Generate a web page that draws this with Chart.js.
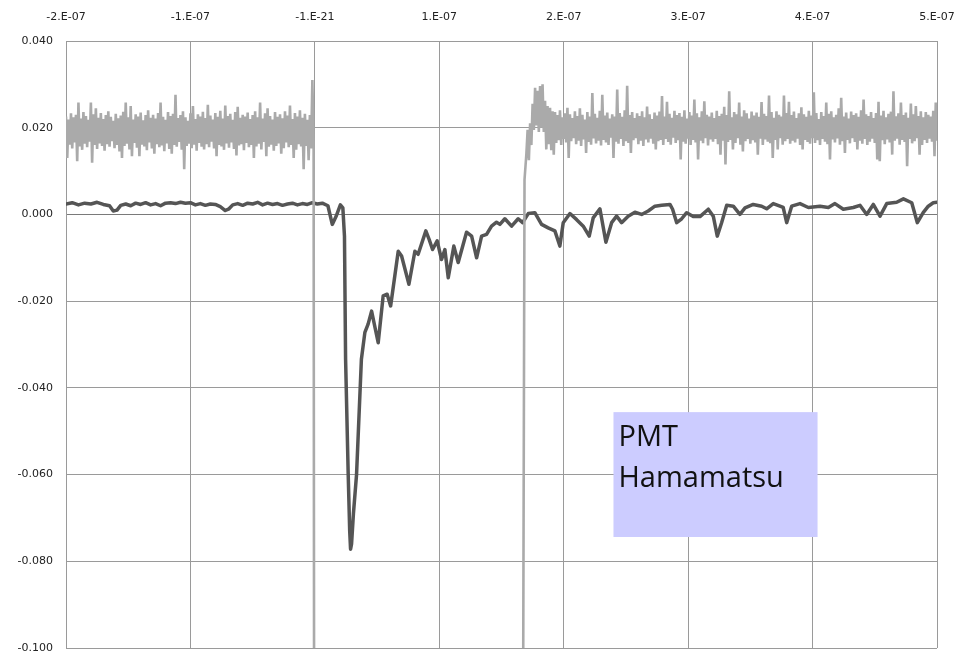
<!DOCTYPE html>
<html>
<head>
<meta charset="utf-8">
<title>PMT Hamamatsu</title>
<script src="https://cdn.jsdelivr.net/npm/chart.js@4.4.1/dist/chart.umd.min.js"></script>
<style>
  html, body { margin: 0; padding: 0; background: #ffffff; }
  #wrap { position: relative; width: 961px; height: 653px; }
</style>
</head>
<body>
<div id="wrap"><canvas id="c" width="961" height="653"></canvas></div>
<script>
// Axis tick labels (time axis is in ns internally, labelled in seconds)
const xTickLabels = ['-2.E-07', '-1.E-07', '-1.E-21', '1.E-07', '2.E-07', '3.E-07', '4.E-07', '5.E-07'];
const yTickLabels = ['-0.100', '-0.080', '-0.060', '-0.040', '-0.020', '0.000', '0.020', '0.040'];

// PMT anode signal (dark trace): time in ns, amplitude in V
const darkTimeNs = [
  -200, -195, -190, -185, -180, -175, -170, -165, -162, -159, -156, -152, -148, -144, -140, -136,
  -132, -128, -124, -120, -116, -112, -108, -104, -100, -96, -92, -88, -84, -80, -76, -72, -69, -66,
  -62, -58, -54, -50, -46, -42, -38, -34, -30, -26, -22, -18, -14, -10, -6, -2, 2, 6, 10.5, 14, 17,
  20.5, 22.5, 23.8, 24.7, 26.8, 28, 28.7, 29.5, 31, 33.5, 37.4, 40.2, 42.8, 45.6, 50.9, 54.9, 58.1,
  60.9, 67, 69.7, 75.6, 80.4, 83, 89.2, 91.9, 94.6, 98.3, 101.8, 104.5, 107.2, 111.7, 115.2, 121.9,
  126, 130, 134, 138, 142, 146, 148.7, 152.7, 158.1, 163.4, 167.0, 171.5, 176.8, 182.2, 187.5, 192.9,
  196.9, 199.6, 205.0, 210.4, 215.7, 220.5, 223.7, 229.1, 233.9, 238.5, 242.5, 246.5, 251.8, 257.2,
  262.6, 267.9, 273.3, 278.7, 285.4, 287.5, 290.8, 294.8, 298.8, 304.1, 309.5, 316.2, 320.2, 323.4,
  326.9, 331.0, 336.3, 341.6, 345.7, 352.3, 359.1, 363.1, 368.4, 373.8, 376.4, 379.2, 383.2, 389.9,
  396.6, 406.0, 412.7, 418.0, 424.7, 432.7, 438.1, 443.5, 448.8, 454.2, 459.6, 467.6, 473.0, 479.7,
  484.2, 488.9, 493.0, 497.0, 500
];
const darkVolt = [
  0.0024, 0.0027, 0.0022, 0.0026, 0.0024, 0.0028, 0.0023, 0.0020, 0.0008, 0.0010, 0.0021, 0.0024, 0.0020, 0.0026, 0.0023, 0.0027,
  0.0022, 0.0025, 0.0020, 0.0026, 0.0027, 0.0025, 0.0028, 0.0026, 0.0027, 0.0022, 0.0025, 0.0021, 0.0024, 0.0023, 0.0018, 0.0009, 0.0013, 0.0022,
  0.0025, 0.0021, 0.0026, 0.0024, 0.0028, 0.0022, 0.0026, 0.0023, 0.0025, 0.0021, 0.0024, 0.0026, 0.0022, 0.0025, 0.0023, 0.0027, 0.0024, 0.0026, 0.0020, -0.0023, -0.0005,
  0.0022, 0.0015, -0.0050, -0.0334, -0.0600, -0.0730, -0.0772, -0.0760, -0.0690, -0.0600, -0.0334, -0.0272, -0.0253, -0.0223, -0.0296, -0.0188, -0.0184,
  -0.0211, -0.0085, -0.0096, -0.0161, -0.0085, -0.0092, -0.0038, -0.0058, -0.0081, -0.0061, -0.0104, -0.0081, -0.0146, -0.0073, -0.0111, -0.0041,
  -0.0050, -0.0100, -0.0050, -0.0046, -0.0027, -0.0018, -0.0023, -0.0010, -0.0027, -0.0010, -0.0019, 0.0002, 0.0004, -0.0023, -0.0031, -0.0038,
  -0.0073, -0.0019, 0.0002, -0.0012, -0.0027, -0.0050, -0.0008, 0.0013, -0.0064, -0.0019, -0.0004, -0.0019, -0.0004, 0.0005,
  0.0000, 0.0008, 0.0019, 0.0021, 0.0023, 0.0012, -0.0019, -0.0010, 0.0004, -0.0005, -0.0005, 0.0012, -0.0004, -0.0050,
  -0.0019, 0.0021, 0.0019, 0.0000, 0.0015, 0.0023, 0.0019, 0.0013, 0.0025, 0.0019, 0.0016, -0.0019, 0.0019, 0.0025,
  0.0016, 0.0019, 0.0016, 0.0025, 0.0012, 0.0016, 0.0021, 0.0000, 0.0023, -0.0004, 0.0025, 0.0028, 0.0036, 0.0027,
  -0.0019, 0.0004, 0.0019, 0.0027, 0.0028
];

// Reference trace (light): recorded at a fixed 1 ns sample interval
const SAMPLE_NS = 1;
const lightPreStartNs = -200;
const lightPreVolt = [
  0.0226, 0.0130, 0.0219, 0.0161, 0.0233, 0.0152, 0.0224, 0.0166, 0.0230, 0.0123,
  0.0258, 0.0157, 0.0221, 0.0149, 0.0236, 0.0163, 0.0227, 0.0155, 0.0218, 0.0168,
  0.0258, 0.0119, 0.0231, 0.0160, 0.0245, 0.0151, 0.0223, 0.0164, 0.0234, 0.0158,
  0.0220, 0.0147, 0.0229, 0.0162, 0.0238, 0.0156, 0.0225, 0.0169, 0.0216, 0.0153,
  0.0232, 0.0160, 0.0222, 0.0145, 0.0228, 0.0130, 0.0237, 0.0158, 0.0258, 0.0163,
  0.0224, 0.0150, 0.0250, 0.0134, 0.0219, 0.0165, 0.0231, 0.0154, 0.0226, 0.0134,
  0.0235, 0.0161, 0.0217, 0.0157, 0.0229, 0.0148, 0.0240, 0.0166, 0.0223, 0.0152,
  0.0230, 0.0140, 0.0221, 0.0162, 0.0234, 0.0155, 0.0258, 0.0159, 0.0225, 0.0146,
  0.0218, 0.0164, 0.0236, 0.0151, 0.0227, 0.0140, 0.0232, 0.0160, 0.0276, 0.0156,
  0.0222, 0.0167, 0.0229, 0.0149, 0.0238, 0.0104, 0.0224, 0.0158, 0.0216, 0.0163,
  0.0233, 0.0153, 0.0250, 0.0161, 0.0220, 0.0147, 0.0231, 0.0165, 0.0226, 0.0156,
  0.0237, 0.0150, 0.0222, 0.0162, 0.0253, 0.0155, 0.0228, 0.0168, 0.0219, 0.0152,
  0.0234, 0.0134, 0.0225, 0.0160, 0.0239, 0.0157, 0.0221, 0.0149, 0.0251, 0.0164,
  0.0227, 0.0154, 0.0232, 0.0166, 0.0218, 0.0151, 0.0236, 0.0136, 0.0248, 0.0159,
  0.0223, 0.0162, 0.0230, 0.0148, 0.0226, 0.0165, 0.0235, 0.0155, 0.0220, 0.0160,
  0.0229, 0.0130, 0.0238, 0.0157, 0.0224, 0.0163, 0.0258, 0.0150, 0.0221, 0.0167,
  0.0233, 0.0134, 0.0245, 0.0156, 0.0227, 0.0161, 0.0219, 0.0147, 0.0236, 0.0158,
  0.0225, 0.0164, 0.0231, 0.0140, 0.0222, 0.0153, 0.0238, 0.0166, 0.0228, 0.0155,
  0.0251, 0.0160, 0.0220, 0.0130, 0.0234, 0.0149, 0.0226, 0.0162, 0.0240, 0.0157,
  0.0223, 0.0104, 0.0232, 0.0158, 0.0218, 0.0125, 0.0229, 0.0152, 0.0310, 0.0165
];
// Off-scale stretch while the trace is saturated below the plotted range
const lightEdgeTimeNs = [-0.5, 167.0, 168.5, 170.0, 171.0];
const lightEdgeVolt = [-0.15, -0.15, 0.0080, 0.0140, 0.0195];
const lightPostStartNs = 172;
const lightPostVolt = [
  0.0125, 0.0210, 0.0160, 0.0255, 0.0195, 0.0292, 0.0205, 0.0285, 0.0190, 0.0296,
  0.0200, 0.0300, 0.0190, 0.0262, 0.0150, 0.0250, 0.0162, 0.0246, 0.0148, 0.0238,
  0.0138, 0.0236, 0.0165, 0.0229, 0.0171, 0.0240, 0.0160, 0.0224, 0.0174, 0.0233,
  0.0166, 0.0246, 0.0130, 0.0231, 0.0169, 0.0222, 0.0176, 0.0238, 0.0162, 0.0227,
  0.0170, 0.0245, 0.0158, 0.0230, 0.0173, 0.0219, 0.0142, 0.0236, 0.0167, 0.0226,
  0.0161, 0.0280, 0.0175, 0.0232, 0.0164, 0.0223, 0.0170, 0.0239, 0.0159, 0.0276,
  0.0172, 0.0228, 0.0166, 0.0235, 0.0160, 0.0221, 0.0177, 0.0231, 0.0130, 0.0226,
  0.0168, 0.0288, 0.0163, 0.0234, 0.0174, 0.0225, 0.0158, 0.0240, 0.0169, 0.0297,
  0.0165, 0.0229, 0.0142, 0.0236, 0.0171, 0.0222, 0.0176, 0.0233, 0.0162, 0.0227,
  0.0170, 0.0238, 0.0158, 0.0224, 0.0173, 0.0249, 0.0166, 0.0231, 0.0175, 0.0220,
  0.0163, 0.0235, 0.0150, 0.0228, 0.0169, 0.0237, 0.0172, 0.0273, 0.0160, 0.0226,
  0.0174, 0.0260, 0.0167, 0.0232, 0.0161, 0.0223, 0.0177, 0.0239, 0.0165, 0.0229,
  0.0171, 0.0234, 0.0127, 0.0225, 0.0168, 0.0240, 0.0163, 0.0221, 0.0175, 0.0236,
  0.0160, 0.0228, 0.0172, 0.0265, 0.0166, 0.0233, 0.0127, 0.0224, 0.0170, 0.0238,
  0.0164, 0.0261, 0.0176, 0.0230, 0.0159, 0.0226, 0.0173, 0.0235, 0.0168, 0.0222,
  0.0174, 0.0239, 0.0162, 0.0227, 0.0138, 0.0232, 0.0170, 0.0248, 0.0115, 0.0229,
  0.0167, 0.0284, 0.0172, 0.0224, 0.0150, 0.0236, 0.0165, 0.0231, 0.0176, 0.0258,
  0.0161, 0.0226, 0.0145, 0.0240, 0.0169, 0.0233, 0.0174, 0.0221, 0.0163, 0.0237,
  0.0171, 0.0228, 0.0166, 0.0235, 0.0138, 0.0225, 0.0175, 0.0259, 0.0160, 0.0232,
  0.0173, 0.0227, 0.0168, 0.0274, 0.0164, 0.0236, 0.0130, 0.0223, 0.0172, 0.0238,
  0.0150, 0.0230, 0.0176, 0.0226, 0.0161, 0.0274, 0.0169, 0.0234, 0.0174, 0.0260,
  0.0163, 0.0229, 0.0170, 0.0237, 0.0166, 0.0222, 0.0175, 0.0233, 0.0160, 0.0247,
  0.0150, 0.0231, 0.0172, 0.0225, 0.0167, 0.0239, 0.0163, 0.0228, 0.0176, 0.0282,
  0.0165, 0.0234, 0.0171, 0.0220, 0.0160, 0.0236, 0.0174, 0.0227, 0.0168, 0.0258,
  0.0162, 0.0232, 0.0127, 0.0238, 0.0173, 0.0224, 0.0166, 0.0230, 0.0175, 0.0245,
  0.0161, 0.0269, 0.0169, 0.0226, 0.0142, 0.0235, 0.0172, 0.0221, 0.0164, 0.0237,
  0.0176, 0.0229, 0.0167, 0.0233, 0.0150, 0.0225, 0.0170, 0.0240, 0.0163, 0.0265,
  0.0174, 0.0231, 0.0160, 0.0227, 0.0168, 0.0236, 0.0175, 0.0222, 0.0165, 0.0234,
  0.0127, 0.0260, 0.0123, 0.0228, 0.0171, 0.0239, 0.0162, 0.0224, 0.0173, 0.0232,
  0.0166, 0.0237, 0.0138, 0.0284, 0.0170, 0.0226, 0.0175, 0.0233, 0.0161, 0.0258,
  0.0172, 0.0229, 0.0167, 0.0235, 0.0111, 0.0223, 0.0174, 0.0256, 0.0164, 0.0231,
  0.0169, 0.0250, 0.0176, 0.0227, 0.0138, 0.0238, 0.0160, 0.0224, 0.0172, 0.0236,
  0.0165, 0.0230, 0.0175, 0.0226, 0.0168, 0.0239, 0.0134, 0.0258, 0.0170
];

const noteLines = ['PMT', 'Hamamatsu'];

// Build point objects from the sampled segments and the paired arrays
function sampledPoints(startNs, values) {
  return values.map((v, i) => ({ x: startNs + i * SAMPLE_NS, y: v }));
}
const lightPoints = [
  ...sampledPoints(lightPreStartNs, lightPreVolt),
  ...lightEdgeTimeNs.map((t, i) => ({ x: t, y: lightEdgeVolt[i] })),
  ...sampledPoints(lightPostStartNs, lightPostVolt)
];
const darkPoints = darkTimeNs.map((t, i) => ({ x: t, y: darkVolt[i] }));

// Shaded caption box, placed in data coordinates
const noteBoxPlugin = {
  id: 'noteBox',
  afterDatasetsDraw(chart, args, opts) {
    const { ctx, scales: { x, y } } = chart;
    const l = x.getPixelForValue(opts.x0), r = x.getPixelForValue(opts.x1);
    const t = y.getPixelForValue(opts.y0), b = y.getPixelForValue(opts.y1);
    ctx.save();
    ctx.fillStyle = opts.fill;
    ctx.fillRect(l, t, r - l, b - t);
    ctx.fillStyle = opts.color;
    ctx.font = opts.font;
    ctx.textBaseline = 'alphabetic';
    ctx.textAlign = 'left';
    noteLines.forEach((s, i) => ctx.fillText(s, l + opts.padX, t + opts.firstBaseline + i * opts.lineGap));
    ctx.restore();
  }
};

const gridGray = '#9a9a9a';
const tickFont = { family: 'DejaVu Sans', size: 11 };

new Chart(document.getElementById('c'), {
  type: 'line',
  data: {
    datasets: [
      { label: 'reference', data: lightPoints, borderColor: '#aaaaaa', borderWidth: 2.6,
        pointRadius: 0, tension: 0, order: 0 },
      { label: 'PMT', data: darkPoints, borderColor: '#555555', borderWidth: 3.5,
        pointRadius: 0, tension: 0, order: 1, borderJoinStyle: 'round', borderCapStyle: 'round' }
    ]
  },
  options: {
    responsive: false,
    animation: false,
    devicePixelRatio: 1,
    parsing: false,
    layout: { padding: { left: 0, right: 24, top: 0, bottom: 5 } },
    plugins: {
      legend: { display: false },
      tooltip: { enabled: false },
      noteBox: {
        x0: 240, x1: 404, y0: -0.0456, y1: -0.0744,
        fill: '#ccccff', color: '#111111',
        font: '29px "Open Sans"', padX: 5, firstBaseline: 34, lineGap: 41
      }
    },
    scales: {
      x: {
        type: 'linear', position: 'top', min: -200, max: 500,
        afterFit: s => { s.height = 41; s.paddingLeft = 0; s.paddingRight = 0; },
        ticks: {
          stepSize: 100, autoSkip: false, maxRotation: 0, padding: 17,
          color: '#222222', font: tickFont,
          callback: (v, i) => xTickLabels[i]
        },
        grid: { color: gridGray, lineWidth: 1, drawTicks: false },
        border: { color: gridGray }
      },
      y: {
        type: 'linear', min: -0.1, max: 0.04,
        afterFit: s => { s.width = 66; s.paddingTop = 0; s.paddingBottom = 0; },
        ticks: {
          stepSize: 0.02, autoSkip: false, padding: 13,
          color: '#222222', font: tickFont,
          callback: (v, i) => yTickLabels[i]
        },
        grid: {
          color: c => (c.tick && Math.abs(c.tick.value) < 1e-9) ? '#7a7a7a' : gridGray,
          lineWidth: 1, drawTicks: false
        },
        border: { color: gridGray }
      }
    }
  },
  plugins: [noteBoxPlugin]
});
</script>
</body>
</html>
